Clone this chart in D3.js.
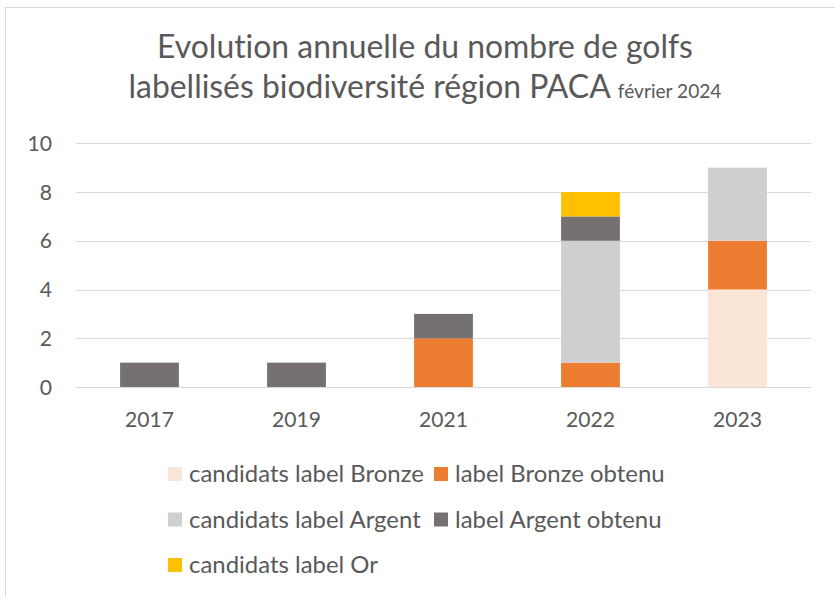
<!DOCTYPE html>
<html>
<head>
<meta charset="utf-8">
<script src="https://cdn.jsdelivr.net/npm/d3@7"></script>
<style>
  html, body { margin: 0; padding: 0; background: #fff; }
  svg { display: block; }
  text { font-family: Lato, "Open Sans", sans-serif; fill: #595959; font-variant-ligatures: none; font-feature-settings: "liga" 0; }
</style>
</head>
<body>
<svg id="chart" width="835" height="597"></svg>
<script>
const years = ["2017", "2019", "2021", "2022", "2023"];
const seriesNames = ["candidats label Bronze", "label Bronze obtenu", "candidats label Argent", "label Argent obtenu", "candidats label Or"];
const candidatsBronze = [0, 0, 0, 0, 4];
const bronzeObtenu   = [0, 0, 2, 1, 2];
const candidatsArgent = [0, 0, 0, 5, 3];
const argentObtenu   = [1, 1, 1, 1, 0];
const candidatsOr    = [0, 0, 0, 1, 0];
const yTicks = [0, 2, 4, 6, 8, 10];
const colors = ["#FBE5D6", "#ED7D31", "#D0CECE", "#767171", "#FFC000"];
const titleLine1 = "Evolution annuelle du nombre de golfs";
const titleLine2 = "labellisés biodiversité région PACA";
const titleSub = "février 2024";

const seriesValues = [candidatsBronze, bronzeObtenu, candidatsArgent, argentObtenu, candidatsOr];
const table = years.map((yr, i) => {
  const row = { year: yr };
  seriesNames.forEach((s, k) => row[s] = seriesValues[k][i]);
  return row;
});

const svg = d3.select("#chart");

// chart area border
svg.append("rect").attr("x", 5.5).attr("y", 7.5).attr("width", 840).attr("height", 600)
  .attr("fill", "#fff").attr("stroke", "#D9D9D9").attr("stroke-width", 1);

const x = d3.scaleBand().domain(years).range([76, 811]).paddingInner(0.6).paddingOuter(0.3);
const y = d3.scaleLinear().domain([0, 10]).range([387, 143.3]);

function fit(sel, target, base) {
  sel.style("font-size", base + "px");
  const w = sel.node().getComputedTextLength();
  const fs = base * target / w;
  sel.style("font-size", fs + "px");
  return fs;
}

// gridlines
svg.append("g").selectAll("line").data(yTicks).join("line")
  .attr("x1", 76).attr("x2", 811)
  .attr("y1", d => Math.round(y(d)) + 0.5).attr("y2", d => Math.round(y(d)) + 0.5)
  .attr("stroke", "#D9D9D9").attr("stroke-width", 1);

// bars
const stack = d3.stack().keys(seriesNames);
const stacked = stack(table);
svg.append("g").selectAll("g").data(stacked).join("g")
  .attr("fill", (d, i) => colors[i])
  .selectAll("rect").data(d => d).join("rect")
  .attr("x", d => x(d.data.year))
  .attr("width", x.bandwidth())
  .attr("y", d => y(d[1]))
  .attr("height", d => y(d[0]) - y(d[1]));

// x tick labels
const tmp = svg.append("text").text("2017");
const tickFs = fit(tmp, 49, 20);
tmp.remove();

svg.append("g").selectAll("text").data(years).join("text")
  .attr("x", d => x(d) + x.bandwidth() / 2).attr("y", 427)
  .attr("text-anchor", "middle").style("font-size", tickFs + "px")
  .text(d => d);

// y tick labels
svg.append("g").selectAll("text").data(yTicks).join("text")
  .attr("x", 52).attr("y", d => y(d))
  .attr("dy", "0.36em")
  .attr("text-anchor", "end").style("font-size", tickFs + "px")
  .text(d => d);

// title
const t1 = svg.append("text").attr("x", 425).attr("y", 58).attr("text-anchor", "middle").text(titleLine1);
const titleFs = fit(t1, 536, 28);
const t2 = svg.append("text").attr("x", 425).attr("y", 98).attr("text-anchor", "middle");
t2.append("tspan").style("font-size", titleFs + "px").text(titleLine2 + " ");
t2.append("tspan").style("font-size", (titleFs * 0.6) + "px").text(titleSub);

// legend
const tmp2 = svg.append("text").text(seriesNames[0]);
const legFs = fit(tmp2, 235, 20);
tmp2.remove();
const legendPos = [[168, 482], [434, 482], [168, 527.5], [434, 527.5], [168, 573]];
const lg = svg.append("g").selectAll("g").data(seriesNames).join("g")
  .attr("transform", (d, i) => `translate(${legendPos[i][0]},${legendPos[i][1]})`);
lg.append("rect").attr("x", 0).attr("y", -15).attr("width", 14).attr("height", 14)
  .attr("fill", (d, i) => colors[i]);
lg.append("text").attr("x", 21).attr("y", 0).style("font-size", legFs + "px").text(d => d);
</script>
</body>
</html>
